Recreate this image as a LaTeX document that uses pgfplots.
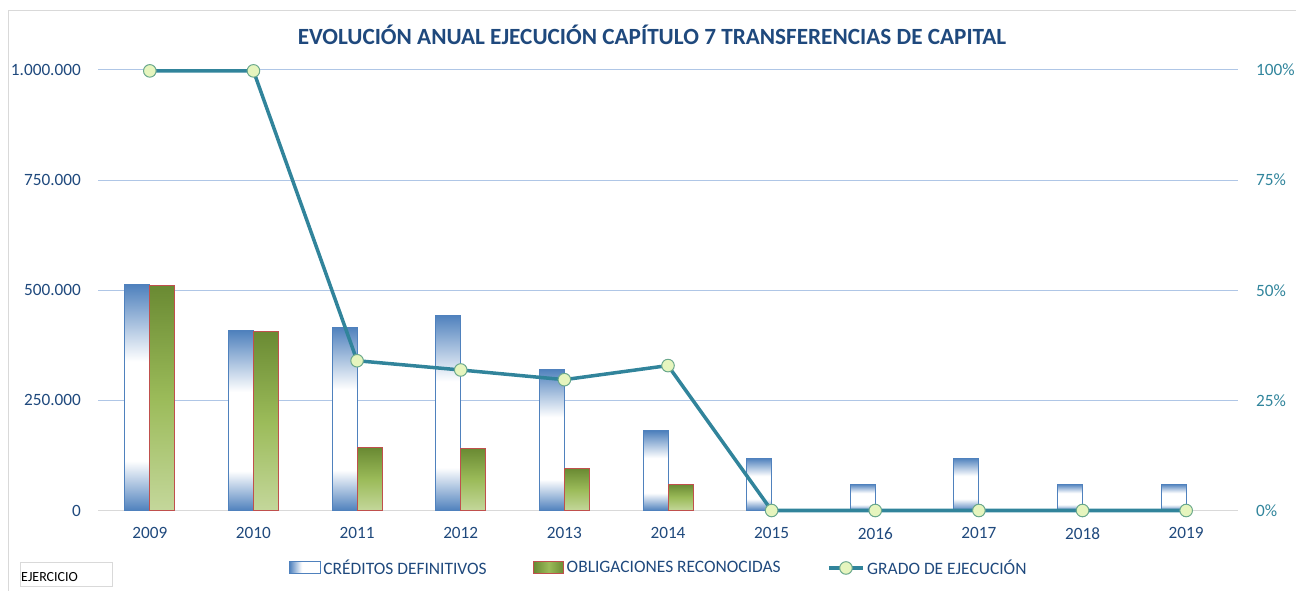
\documentclass[border=0pt]{standalone}
\usepackage{pgfplots}
\pgfplotsset{compat=1.18}
\usepackage{fontspec}
\setmainfont{Carlito}
\definecolor{credblue}{HTML}{4F81BD}
\definecolor{obtop}{HTML}{6A8A33}
\definecolor{obmid}{HTML}{9BBB59}
\definecolor{obbot}{HTML}{C4D79B}
\definecolor{oblred}{HTML}{C0504D}
\definecolor{lineteal}{HTML}{31849B}
\definecolor{markfill}{HTML}{E6F5BE}
\definecolor{markdraw}{HTML}{6AA88C}
\definecolor{gridblue}{HTML}{AFC6E6}
\definecolor{basegray}{HTML}{D9D9D9}
\definecolor{navy}{HTML}{1F497D}
\definecolor{tealtxt}{HTML}{31859C}
\definecolor{bordergray}{HTML}{D9D9D9}
\pgfdeclareverticalshading{credshade}{100bp}{color(0bp)=(credblue); color(25bp)=(credblue); color(36bp)=(white); color(58bp)=(white); color(75bp)=(credblue); color(100bp)=(credblue)}
\pgfdeclareverticalshading{obligshade}{100bp}{color(0bp)=(obbot); color(25bp)=(obbot); color(50bp)=(obmid); color(75bp)=(obtop); color(100bp)=(obtop)}
\pgfdeclarehorizontalshading{credleg}{100bp}{color(0bp)=(credblue); color(25bp)=(credblue); color(45bp)=(white); color(75bp)=(white); color(100bp)=(white)}
\pgfdeclarehorizontalshading{obleg}{100bp}{color(0bp)=(obtop); color(25bp)=(obtop); color(50bp)=(obmid); color(75bp)=(obtop); color(100bp)=(obtop)}
\pgfplotsset{
  myline legend/.style={legend image code/.code={\draw[mark repeat=2, mark phase=2, ##1] plot coordinates {(0bp,0bp) (17bp,0bp) (34bp,0bp)};}},
  credbar/.style={bar shift=-12.5bp, draw=credblue, line width=1bp, shading=credshade},
  oblbar/.style={bar shift=12.5bp, draw=oblred, line width=1bp, shading=obligshade},
}
\begin{document}
\begin{tikzpicture}
\useasboundingbox (0,0) rectangle (1296bp,591bp);
\draw[color=bordergray, line width=1bp] (8bp,0bp) -- (8bp,580bp) -- (1296bp,580bp);
\begin{axis}[
  at={(98bp,80.5bp)}, anchor=south west, scale only axis,
  width=1140bp, height=440.5bp,
  xmin=-0.5, xmax=10.5, ymin=0, ymax=1000000,
  xtick={0,1,2,3,4,5,6,7,8,9,10},
  xticklabels={2009,2010,2011,2012,2013,2014,2015,2016,2017,2018,2019},
  ytick={0,250000,500000,750000,1000000},
  yticklabels={0,250.000,500.000,750.000,1.000.000},
  scaled y ticks=false,
  axis x line*=bottom, axis y line*=left,
  x axis line style={draw=basegray, line width=1bp, -},
  y axis line style={draw=none},
  major tick length=0pt,
  ymajorgrids, grid style={draw=gridblue, line width=1bp},
  tick label style={font=\fontsize{17.3}{20}\selectfont, text=navy},
  yticklabel style={inner sep=0pt, xshift=-17bp},
  xticklabel style={inner sep=0pt, yshift=-17bp},
  /pgf/number format/assume math mode=true,
  ybar, bar width=25bp,
]
% CREDITOS DEFINITIVOS
\addplot[credbar] coordinates {(0,512500)};
\addplot[credbar] coordinates {(1,408000)};
\addplot[credbar] coordinates {(2,416500)};
\addplot[credbar] coordinates {(3,443800)};
\addplot[credbar] coordinates {(4,321000)};
\addplot[credbar] coordinates {(5,180500)};
\addplot[credbar] coordinates {(6,118500)};
\addplot[credbar] coordinates {(7,60000)};
\addplot[credbar] coordinates {(8,119000)};
\addplot[credbar] coordinates {(9,60000)};
\addplot[credbar] coordinates {(10,60000)};
% OBLIGACIONES RECONOCIDAS
\addplot[oblbar] coordinates {(0,510000)};
\addplot[oblbar] coordinates {(1,406000)};
\addplot[oblbar] coordinates {(2,142000)};
\addplot[oblbar] coordinates {(3,141000)};
\addplot[oblbar] coordinates {(4,95000)};
\addplot[oblbar] coordinates {(5,59500)};
\end{axis}
\begin{axis}[
  at={(98bp,80.5bp)}, anchor=south west, scale only axis,
  width=1140bp, height=440.5bp,
  xmin=-0.5, xmax=10.5, ymin=0, ymax=100,
  axis x line=none, axis y line*=right,
  y axis line style={draw=none},
  major tick length=0pt,
  ytick={0,25,50,75,100},
  yticklabels={0\%,25\%,50\%,75\%,100\%},
  yticklabel style={inner sep=0pt, xshift=18bp, font=\fontsize{17.3}{20}\selectfont, text=tealtxt},
  clip=false,
  legend columns=3,
  legend style={at={(0.4921,-0.1305)}, anchor=center, draw=none, fill=none,
    font=\fontsize{17.5}{20}\selectfont, text=navy, inner sep=0pt,
    nodes={inner xsep=2.5bp, inner ysep=1bp},
    /tikz/every even column/.append style={column sep=44bp}},
  legend cell align=left,
]
\addlegendimage{legend image code/.code={\draw[draw=credblue, line width=1bp, shading=credleg] (0bp,-6bp) rectangle (31bp,6bp);}}
\addlegendentry{CRÉDITOS DEFINITIVOS}
\addlegendimage{legend image code/.code={\draw[draw=oblred, line width=1bp, shading=obleg] (0bp,-6bp) rectangle (30bp,6bp);}}
\addlegendentry{OBLIGACIONES RECONOCIDAS}
\addplot[color=lineteal, line width=3.5bp, mark=*, mark size=6.3bp,
  mark options={fill=markfill, draw=markdraw, line width=1bp}, myline legend]
 coordinates {(0,99.8) (1,99.8) (2,34.0) (3,31.9) (4,29.7) (5,32.9) (6,0) (7,0) (8,0) (9,0) (10,0)};
\addlegendentry{GRADO DE EJECUCIÓN}
\end{axis}
\node[anchor=base, font=\bfseries\fontsize{23.3}{27}\selectfont, text=navy] at (652bp,546bp) {EVOLUCIÓN ANUAL EJECUCIÓN CAPÍTULO 7 TRANSFERENCIAS DE CAPITAL};
\draw[draw=bordergray, line width=1bp] (20bp,4bp) rectangle (112bp,28bp);
\node[anchor=base west, inner sep=0pt, font=\fontsize{14}{16}\selectfont] at (21bp,9.3bp) {EJERCICIO};
\end{tikzpicture}
\end{document}
